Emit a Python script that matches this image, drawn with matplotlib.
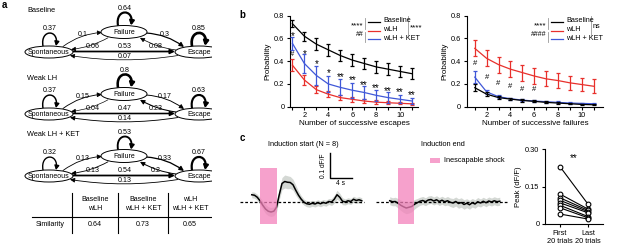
import matplotlib
matplotlib.use('Agg')
import matplotlib.pyplot as plt
from matplotlib.patches import Ellipse, FancyArrowPatch, Rectangle
from matplotlib.path import Path

plt.rcParams['font.family'] = ['Liberation Sans', 'DejaVu Sans']
plt.rcParams['font.size'] = 5.5
plt.rcParams['axes.linewidth'] = 0.8

W, H = 617, 250

# ---------------- data ----------------
diagram_titles = ['Baseline', 'Weak LH', 'Weak LH + KET']
# order: S->S, F->F, E->E, S->F, F->E, F->S, E->F, S->E, E->S
baseline_probs = [0.37, 0.64, 0.85, 0.1, 0.3, 0.06, 0.08, 0.53, 0.07]
weak_lh_probs = [0.37, 0.8, 0.63, 0.15, 0.17, 0.04, 0.23, 0.47, 0.14]
weak_lh_ket_probs = [0.32, 0.53, 0.67, 0.13, 0.33, 0.13, 0.2, 0.54, 0.13]

similarity_pairs = ['Baseline\nwLH', 'Baseline\nwLH + KET', 'wLH\nwLH + KET']
similarity_values = [0.64, 0.73, 0.65]

n_successive = [1, 2, 3, 4, 5, 6, 7, 8, 9, 10, 11]

esc_baseline = [0.73, 0.62, 0.55, 0.50, 0.45, 0.41, 0.38, 0.35, 0.33, 0.31, 0.29]
esc_baseline_err = [0.03, 0.04, 0.05, 0.05, 0.05, 0.05, 0.05, 0.05, 0.05, 0.05, 0.05]
esc_wlh = [0.365, 0.235, 0.15, 0.11, 0.08, 0.065, 0.05, 0.04, 0.035, 0.03, 0.025]
esc_wlh_err = [0.05, 0.04, 0.03, 0.025, 0.02, 0.02, 0.015, 0.015, 0.012, 0.01, 0.01]
esc_ket = [0.557, 0.38, 0.275, 0.20, 0.17, 0.145, 0.125, 0.10, 0.08, 0.065, 0.05]
esc_ket_err = [0.06, 0.08, 0.08, 0.07, 0.07, 0.065, 0.06, 0.05, 0.045, 0.035, 0.03]
esc_stars = ['*', '*', '*', '*', '**', '**', '**', '**', '**', '**', '**']
esc_star_y = [0.645, 0.48, 0.395, 0.316, 0.278, 0.25, 0.21, 0.18, 0.16, 0.147, 0.126]

fail_baseline = [0.167, 0.11, 0.08, 0.067, 0.055, 0.047, 0.038, 0.032, 0.026, 0.02, 0.017]
fail_baseline_err = [0.03, 0.015, 0.012, 0.01, 0.01, 0.008, 0.008, 0.007, 0.006, 0.006, 0.005]
fail_wlh = [0.513, 0.425, 0.37, 0.33, 0.30, 0.27, 0.245, 0.23, 0.21, 0.195, 0.18]
fail_wlh_err = [0.07, 0.07, 0.07, 0.07, 0.07, 0.07, 0.065, 0.065, 0.06, 0.06, 0.06]
fail_ket = [0.26, 0.13, 0.088, 0.07, 0.058, 0.05, 0.044, 0.038, 0.032, 0.029, 0.026]
fail_ket_err = [0.05, 0.015, 0.012, 0.01, 0.01, 0.009, 0.008, 0.008, 0.007, 0.007, 0.006]
fail_hash_x = [1, 2, 3, 4, 5, 6]
fail_hash_y = [0.38, 0.26, 0.2, 0.18, 0.155, 0.155]

trace_t = [-1.5, -1.0, -0.5, 0.0, 0.5, 1.0, 1.5, 2.0, 2.5, 3.0, 3.5, 4.0, 4.5, 5.0,
           5.5, 6.0, 6.5, 7.0, 7.5, 8.0, 8.5, 9.0, 9.5, 10.0, 10.5, 11.0, 11.5, 12.0,
           12.5, 13.0, 13.5, 14.0, 14.5, 15.0, 15.5, 16.0, 16.5, 17.0, 17.5, 18.0, 18.5]
start_trace = [0.030, 0.028, 0.020, 0.006, -0.012, -0.027, -0.036, -0.039, -0.036, -0.020,
               0.030, 0.075, 0.083, 0.080, 0.079, 0.070, 0.048, 0.028, 0.012, 0.000,
               -0.006, -0.008, -0.004, -0.007, -0.002, -0.006, -0.001, -0.004, 0.003, 0.001,
               0.012, 0.030, 0.020, 0.004, 0.001, 0.006, 0.003, 0.012, 0.007, 0.010, 0.006]
start_sem = [0.012, 0.012, 0.012, 0.014, 0.016, 0.018, 0.018, 0.018, 0.018, 0.018,
             0.020, 0.024, 0.026, 0.026, 0.024, 0.022, 0.020, 0.016, 0.014, 0.012,
             0.012, 0.012, 0.012, 0.012, 0.012, 0.012, 0.012, 0.012, 0.012, 0.014,
             0.016, 0.018, 0.016, 0.014, 0.012, 0.012, 0.012, 0.012, 0.012, 0.012, 0.012]
end_trace = [0.006, 0.002, 0.003, -0.004, -0.012, -0.018, -0.023, -0.020, -0.017, -0.008,
             -0.002, 0.004, 0.007, 0.002, 0.009, 0.011, 0.005, 0.010, 0.003, 0.008,
             0.002, 0.006, 0.000, -0.003, 0.003, -0.005, -0.001, -0.009, -0.004, -0.010,
             -0.002, -0.007, 0.002, -0.003, 0.004, -0.002, 0.005, 0.001, 0.006, 0.002, 0.004]
end_sem = [0.016, 0.016, 0.017, 0.019, 0.021, 0.023, 0.023, 0.023, 0.021, 0.019,
           0.017, 0.016, 0.016, 0.016, 0.016, 0.016, 0.016, 0.016, 0.016, 0.016,
           0.016, 0.017, 0.017, 0.018, 0.018, 0.019, 0.019, 0.019, 0.018, 0.018,
           0.017, 0.017, 0.017, 0.016, 0.016, 0.016, 0.016, 0.016, 0.016, 0.016, 0.016]
shock_window = [0.0, 3.0]

peak_first = [0.23, 0.12, 0.105, 0.095, 0.085, 0.075, 0.065, 0.04]
peak_last = [0.08, 0.06, 0.055, 0.05, 0.045, 0.03, 0.025, 0.02]
peak_groups = ['First\n20 trials', 'Last\n20 trials']

red = '#e8302c'
blue = '#4058d8'
pink = '#f482bb'

fig = plt.figure(figsize=(W / 100, H / 100), dpi=100)


def px_axes(x0, y0, x1, y1, **kw):
    return fig.add_axes([x0 / W, 1 - y1 / H, (x1 - x0) / W, (y1 - y0) / H], **kw)


def ftext(x, y, s, **kw):
    fig.text(x / W, 1 - y / H, s, **kw)


# ---------------- panel a ----------------
axa = px_axes(0, 0, 212, 250)
axa.set_xlim(0, 212)
axa.set_ylim(250, 0)
axa.axis('off')


def edge(ax, a, b, p, rad, lab):
    arr = FancyArrowPatch(a, b, connectionstyle=f'arc3,rad={rad}',
                          arrowstyle='-|>,head_length=0.45,head_width=0.22',
                          mutation_scale=6, lw=0.4 + 1.6 * p, color='k',
                          shrinkA=0, shrinkB=0, zorder=2)
    ax.add_patch(arr)
    ax.text(lab[0], lab[1], f'{p:g}', ha='center', va='center', fontsize=5.1, zorder=4)


def loop(ax, x0, x1, y, h, p, lab_y):
    verts = [(x0, y), (x0 - 3, y - h), (x1 + 3, y - h), (x1, y)]
    codes = [Path.MOVETO, Path.CURVE4, Path.CURVE4, Path.CURVE4]
    arr = FancyArrowPatch(path=Path(verts, codes),
                          arrowstyle='-|>,head_length=0.45,head_width=0.25',
                          mutation_scale=5.5, lw=0.4 + 1.8 * p, color='k', zorder=2)
    ax.add_patch(arr)
    ax.text((x0 + x1) / 2, lab_y, f'{p:g}', ha='center', va='center', fontsize=5.1)


def diagram(ax, dy, probs, title, title_y):
    ss, ff, ee, sf, fe, fs, ef, se, es = probs
    ax.text(27, title_y, title, ha='left', va='center', fontsize=5.3)
    for (cx, cy, w, h, name) in [(49, 52, 48, 12, 'Spontaneous'), (124, 32, 46, 13, 'Failure'),
                                 (199, 52, 48, 12, 'Escape')]:
        ax.add_patch(Ellipse((cx, cy + dy), w, h, fc='white', ec='k', lw=0.7, zorder=3))
        ax.text(cx, cy + dy, name, ha='center', va='center', fontsize=5.0, zorder=4)
    edge(ax, (63, 46.5 + dy), (102, 32.5 + dy), sf, -0.15, (83, 34 + dy))
    edge(ax, (108, 37.8 + dy), (71, 49.5 + dy), fs, -0.1, (93, 46.5 + dy))
    edge(ax, (146, 33 + dy), (184, 47 + dy), fe, -0.15, (165, 34 + dy))
    edge(ax, (176, 50 + dy), (140, 37.8 + dy), ef, -0.1, (156, 46.5 + dy))
    edge(ax, (73, 51.5 + dy), (175, 51.5 + dy), se, 0, (125, 47 + dy))
    edge(ax, (178, 55.5 + dy), (70, 55.5 + dy), es, -0.08, (125, 56.5 + dy))
    loop(ax, 43, 56, 46 + dy, 17, ss, 28 + dy)
    loop(ax, 118, 131, 25.5 + dy, 17, ff, 9 + dy)
    loop(ax, 192, 205, 46 + dy, 17, ee, 28 + dy)


diagram(axa, 0, baseline_probs, diagram_titles[0], 10)
diagram(axa, 62, weak_lh_probs, diagram_titles[1], 79)
diagram(axa, 124, weak_lh_ket_probs, diagram_titles[2], 135)

# similarity table
for xv in [72, 118, 168]:
    axa.plot([xv, xv], [193, 233], color='k', lw=0.8)
axa.plot([32, 212], [217, 217], color='k', lw=0.8)
for xc, lab, val in zip([95, 143, 190], similarity_pairs, similarity_values):
    axa.text(xc, 204, lab, ha='center', va='center', fontsize=5.1, linespacing=1.3)
    axa.text(xc, 225, f'{val:.2f}', ha='center', va='center', fontsize=5.1)
axa.text(50, 225, 'Similarity', ha='center', va='center', fontsize=5.1)

ftext(4, 5, 'a', fontsize=7, fontweight='bold', ha='center', va='center')
ftext(242, 15, 'b', fontsize=7, fontweight='bold', ha='center', va='center')
ftext(242, 138, 'c', fontsize=7, fontweight='bold', ha='center', va='center')


# ---------------- panel b ----------------
def style_prob_axes(ax, xlab, xlim):
    ax.set_xlim(*xlim)
    ax.set_ylim(0, 0.8)
    ax.spines[['top', 'right']].set_visible(False)
    ax.set_xticks(n_successive)
    ax.set_xticklabels([str(n) if n % 2 == 0 else '' for n in n_successive])
    ax.set_yticks([0, 0.2, 0.4, 0.6, 0.8])
    ax.set_yticklabels(['0', '0.2', '0.4', '0.6', '0.8'])
    ax.tick_params(length=2.5, width=0.8, pad=1.5, labelsize=5.3)
    ax.set_xlabel(xlab, fontsize=5.8, labelpad=0.5)
    ax.set_ylabel('Probability', fontsize=5.8, labelpad=2)


def series(ax, y, err, color, z):
    ax.errorbar(n_successive, y, yerr=err, color=color, lw=0.9, elinewidth=0.9,
                capsize=1.6, capthick=0.9, zorder=z, clip_on=False)


axb1 = px_axes(290, 15.7, 418, 106.7)
series(axb1, esc_baseline, esc_baseline_err, 'k', 3)
series(axb1, esc_wlh, esc_wlh_err, red, 4)
series(axb1, esc_ket, esc_ket_err, blue, 5)
for x, s, y in zip(n_successive, esc_stars, esc_star_y):
    axb1.text(x, y - 0.02, s, ha='center', va='center', fontsize=7)
axb1.text(1, 0.455, '#', ha='center', va='center', fontsize=5.5)
style_prob_axes(axb1, 'Number of successive escapes', (0.8, 11.5))

axb2 = px_axes(466.7, 15.7, 603, 106.7)
series(axb2, fail_baseline, fail_baseline_err, 'k', 5)
series(axb2, fail_wlh, fail_wlh_err, red, 4)
series(axb2, fail_ket, fail_ket_err, blue, 3)
for x, y in zip(fail_hash_x, fail_hash_y):
    axb2.text(x, y, '#', ha='center', va='center', fontsize=5.5)
style_prob_axes(axb2, 'Number of successive failures', (0.32, 11.8))

# legends with significance brackets, drawn on a transparent overlay in pixel units
ov = px_axes(0, 0, W, H, zorder=10)
ov.set_xlim(0, W)
ov.set_ylim(H, 0)
ov.axis('off')


def bracket_legend(x0, left_marks, right_mark):
    for yy, col, lab in zip([21.5, 30.5, 39.3], ['k', red, blue], ['Baseline', 'wLH', 'wLH + KET']):
        ov.plot([x0 + 3, x0 + 15], [yy, yy], color=col, lw=0.9)
        ov.text(x0 + 18, yy - 1, lab, ha='left', va='center', fontsize=5.2)
    ov.plot([x0, x0], [18, 28.5], color='#999999', lw=0.6)
    ov.plot([x0, x0], [31.5, 42], color='#999999', lw=0.6)
    ov.text(x0 - 1.5, 25.5, left_marks[0], ha='right', va='center', fontsize=5.8)
    ov.text(x0 - 1.5, 34.5, left_marks[1], ha='right', va='center', fontsize=5)
    xr = x0 + 43
    ov.plot([xr, xr], [16, 35], color='#999999', lw=0.6)
    ov.text(xr + 2, 27.5 if right_mark.startswith('*') else 26.5, right_mark,
            ha='left', va='center', fontsize=5.8 if right_mark.startswith('*') else 5.2)


bracket_legend(365, ['****', '##'], '****')
bracket_legend(548, ['****', '####'], 'ns')

# ---------------- panel c ----------------
ylo, yhi = -0.111, 0.249
axc1 = px_axes(238, 140, 366, 230)
axc2 = px_axes(374, 140, 510, 230)
for ax, tr, sem, xl in [(axc1, start_trace, start_sem, (-4.0, 19.27)),
                        (axc2, end_trace, end_sem, (-4.36, 20.36))]:
    lo = [m - s for m, s in zip(tr, sem)]
    hi = [m + s for m, s in zip(tr, sem)]
    ax.fill_between(trace_t, lo, hi, color='#d4d8d4', lw=0, zorder=1)
    ax.plot(trace_t, tr, color='k', lw=1.1, zorder=2)
    ax.plot([xl[0] + 0.4, xl[1] - 0.3], [0, 0], color='k', lw=0.9, ls=(0, (2.2, 1.6)), zorder=2)
    ax.add_patch(Rectangle((shock_window[0], -0.088), shock_window[1] - shock_window[0], 0.225,
                           color=pink, alpha=0.75, lw=0, zorder=3))
    ax.set_xlim(*xl)
    ax.set_ylim(ylo, yhi)
    ax.axis('off')

# scale bar
axc1.plot([12.7, 12.7, 16.7], [0.197, 0.097, 0.097], color='k', lw=1.0)
axc1.text(11.6, 0.147, '0.1 dF/F', rotation=90, ha='center', va='center', fontsize=4.8)
axc1.text(14.7, 0.075, '4 s', ha='center', va='center', fontsize=4.8)

ftext(303, 145, 'Induction start (N = 8)', ha='center', va='center', fontsize=5.3)
ftext(443, 145, 'Induction end', ha='center', va='center', fontsize=5.3)
ov.add_patch(Rectangle((430, 158), 10, 5, color=pink, alpha=0.75, lw=0))
ftext(444, 160.5, 'Inescapable shock', ha='left', va='center', fontsize=5.3)

# paired peaks
axp = px_axes(545, 149.3, 603, 224)
for a, b in zip(peak_first, peak_last):
    axp.plot([1, 2], [a, b], color='k', lw=0.8, marker='o', ms=3.4, mfc='white',
             mec='k', mew=0.8, clip_on=False)
axp.set_xlim(0.46, 2.54)
axp.set_ylim(0, 0.3)
axp.spines[['top', 'right']].set_visible(False)
axp.set_xticks([1, 2])
axp.set_xticklabels(peak_groups, linespacing=1.3)
axp.set_yticks([0, 0.15, 0.3])
axp.set_yticklabels(['0', '0.15', '0.30'])
axp.tick_params(length=2.5, width=0.8, pad=1.5, labelsize=5.3)
axp.set_ylabel('Peak (dF/F)', fontsize=5.5, labelpad=2)
axp.text(1.5, 0.265, '**', ha='center', va='center', fontsize=7)

fig.savefig('out.png', dpi=100)
